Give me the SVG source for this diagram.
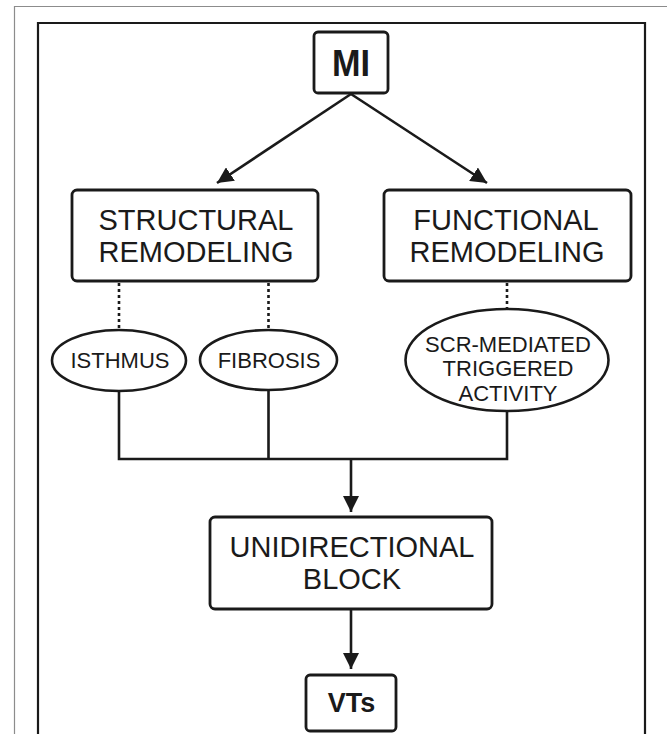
<svg xmlns="http://www.w3.org/2000/svg" width="667" height="734" viewBox="0 0 667 734">
  <style>
    .box { fill: #fff; stroke: #1a1a1a; stroke-width: 2.8; }
    .oval { fill: #fff; stroke: #1a1a1a; stroke-width: 2.6; }
    .lbl { font-family: "Liberation Sans", Arial, sans-serif; fill: #1a1a1a; text-anchor: middle; }
    .big { font-size: 29px; }
    .small { font-size: 22px; }
    .bold { font-weight: bold; }
    .wire { fill: none; stroke: #1a1a1a; stroke-width: 2.6; }
    .dots { fill: none; stroke: #1a1a1a; stroke-width: 2.6; stroke-dasharray: 3 3; }
  </style>
  <defs>
    <marker id="head" viewBox="0 0 10 10" refX="10" refY="5" markerWidth="6.2" markerHeight="6.2" markerUnits="strokeWidth" orient="auto">
      <path d="M0,0 L10,5 L0,10 z" fill="#1a1a1a"/>
    </marker>
  </defs>

  <rect width="667" height="734" fill="#fff"/>
  <!-- page frames -->
  <path d="M14.5,745 V6.5 H680" fill="none" stroke="#8c8c8c" stroke-width="1.2"/>
  <path d="M38,745 V23 H645 V745" fill="none" stroke="#1a1a1a" stroke-width="2.2"/>

  <g id="connectors">
    <line class="wire" x1="351" y1="94" x2="217" y2="183" marker-end="url(#head)"/>
    <line class="wire" x1="351" y1="94" x2="487" y2="183" marker-end="url(#head)"/>
    <line class="dots" x1="119" y1="283" x2="119" y2="330"/>
    <line class="dots" x1="268.5" y1="283" x2="268.5" y2="330"/>
    <line class="dots" x1="507" y1="283" x2="507" y2="309"/>
    <path class="wire" d="M119,391 V459 H507 V411 M268.5,390 V459"/>
    <line class="wire" x1="351" y1="459" x2="351" y2="512" marker-end="url(#head)"/>
    <line class="wire" x1="351" y1="609" x2="351" y2="669" marker-end="url(#head)"/>
  </g>

  <g id="mi">
    <rect class="box" x="314" y="32" width="74" height="61" rx="4"/>
    <text class="lbl bold" x="351" y="76" font-size="37" textLength="38" lengthAdjust="spacingAndGlyphs">MI</text>
  </g>

  <g id="structural">
    <rect class="box" x="72" y="190" width="246" height="91" rx="5"/>
    <text class="lbl big" x="196" y="230">STRUCTURAL</text>
    <text class="lbl big" x="196" y="262">REMODELING</text>
  </g>

  <g id="functional">
    <rect class="box" x="384" y="190" width="247" height="91" rx="5"/>
    <text class="lbl big" x="506" y="230">FUNCTIONAL</text>
    <text class="lbl big" x="507" y="262">REMODELING</text>
  </g>

  <g id="isthmus">
    <ellipse class="oval" cx="119" cy="360.5" rx="67" ry="30.5"/>
    <text class="lbl small" x="120" y="368">ISTHMUS</text>
  </g>

  <g id="fibrosis">
    <ellipse class="oval" cx="268.5" cy="360" rx="68.5" ry="30"/>
    <text class="lbl small" x="269" y="368">FIBROSIS</text>
  </g>

  <g id="scr">
    <ellipse class="oval" cx="507" cy="360" rx="101.5" ry="51"/>
    <text class="lbl small" x="508" y="352">SCR-MEDIATED</text>
    <text class="lbl small" x="508" y="376">TRIGGERED</text>
    <text class="lbl small" x="508" y="401">ACTIVITY</text>
  </g>

  <g id="block">
    <rect class="box" x="210" y="517" width="282" height="92" rx="5"/>
    <text class="lbl big" x="352" y="557">UNIDIRECTIONAL</text>
    <text class="lbl big" x="352" y="589">BLOCK</text>
  </g>

  <g id="vts">
    <rect class="box" x="306" y="675" width="90" height="56" rx="4"/>
    <text class="lbl bold" x="351.5" y="712" font-size="27">VTs</text>
  </g>
</svg>
